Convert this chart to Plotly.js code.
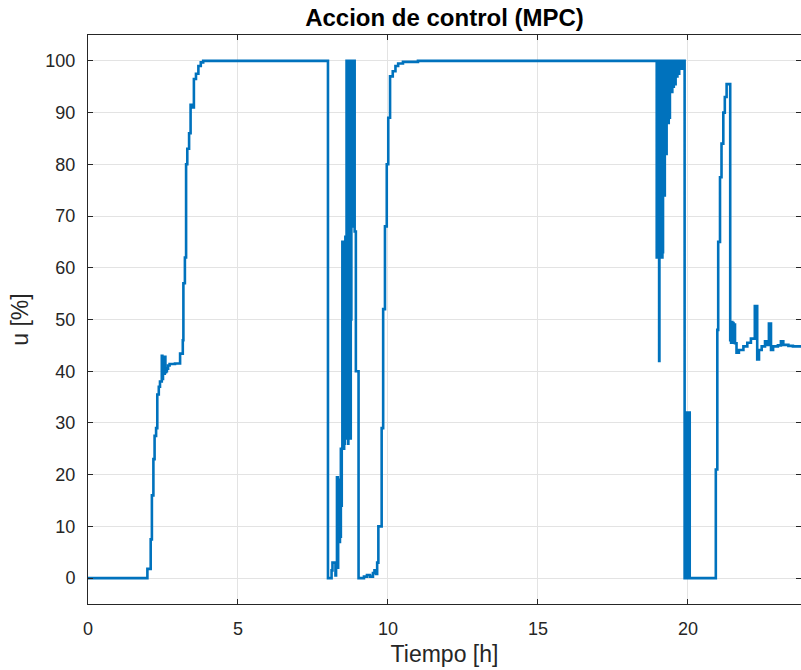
<!DOCTYPE html>
<html>
<head>
<meta charset="utf-8">
<script src="https://cdn.plot.ly/plotly-3.0.1.min.js"></script>
<style>html,body{margin:0;padding:0;background:#fff;}#chart{width:801px;height:670px;}</style>
</head>
<body>
<div id="chart"></div>
<script>
// Time [h] and control action u [%] (zero-order hold samples)
const tRise = [0, 1.98, 2.09, 2.13, 2.18, 2.22, 2.27, 2.31, 2.36, 2.40, 2.46, 2.48, 2.50, 2.53, 2.56, 2.58, 2.60, 2.63, 2.67, 2.72, 2.80, 2.90, 3.00, 3.07, 3.16, 3.18, 3.23, 3.27, 3.31, 3.37, 3.42, 3.47, 3.53, 3.60, 3.68, 3.76, 3.84];
const uRise = [0, 1.8, 7.5, 16, 23, 27.5, 29, 35.5, 37, 38, 43, 38.5, 42, 39.5, 42.8, 39.8, 40, 40.5, 41.1, 41.4, 41.4, 41.5, 41.5, 43.4, 46, 57, 62, 80, 83, 86, 91.5, 91, 96.5, 97.5, 99, 99.7, 100];

const tFirstDrop = [8.00, 8.12, 8.15, 8.22, 8.25, 8.27, 8.30, 8.31, 8.32, 8.33, 8.34, 8.35, 8.37, 8.38, 8.40, 8.41, 8.43, 8.44, 8.46,
  8.48, 8.49, 8.50, 8.51, 8.52, 8.53, 8.54, 8.55, 8.56, 8.57, 8.58, 8.59, 8.60, 8.61, 8.62, 8.63, 8.64, 8.65, 8.66, 8.67, 8.68, 8.69, 8.70,
  8.71, 8.72, 8.73, 8.74, 8.75, 8.76, 8.77, 8.78, 8.79, 8.80, 8.81, 8.82, 8.83, 8.84, 8.85, 8.86, 8.87, 8.88, 8.89, 8.93, 9.02,
  9.20, 9.30, 9.40, 9.50, 9.55, 9.60, 9.64, 9.68, 9.79, 9.84, 9.90, 9.96, 10.01, 10.07, 10.16, 10.25, 10.34, 10.50, 11.00];
const uFirstDrop = [0, 1.5, 3, 3, 0.5, 3, 19.5, 3, 19.5, 2, 19, 8, 14.5, 7, 14.5, 8, 25, 14, 25,
  65, 27, 65, 27, 65, 25, 64, 26, 65, 28, 66, 27, 65, 30, 100, 28, 100, 30, 99, 26, 100, 48, 100,
  30, 99, 50, 100, 27, 100, 50, 100, 68, 100, 68, 100, 70, 100, 68, 100, 69, 100, 67, 40, 0,
  0.3, 0.6, 0.3, 1, 1.5, 0.8, 3, 10, 29, 52, 68, 80, 89, 97, 98, 99, 99.5, 99.8, 100];

const tSecondDrop = [18.95, 18.96, 18.97, 18.98, 18.99, 19.00, 19.01, 19.02, 19.03, 19.04, 19.05, 19.06, 19.07, 19.08, 19.09, 19.10,
  19.11, 19.12, 19.13, 19.14, 19.15, 19.16, 19.17, 19.18, 19.19, 19.20, 19.21, 19.22, 19.23, 19.24, 19.25, 19.26, 19.27, 19.28, 19.29,
  19.30, 19.32, 19.34, 19.36, 19.38, 19.40, 19.42, 19.44, 19.46, 19.48, 19.50, 19.53, 19.56, 19.59, 19.62, 19.65, 19.68, 19.71, 19.74,
  19.77, 19.80, 19.83, 19.89, 19.90, 19.92, 19.93, 19.95, 19.96, 19.98, 19.99, 20.01, 20.02, 20.04, 20.05, 20.06,
  20.93, 20.98, 21.01, 21.07, 21.12, 21.18, 21.23, 21.29, 21.41];
const uSecondDrop = [100, 62, 100, 64, 100, 62, 100, 63, 100, 42, 100, 62, 100, 63, 100, 62,
  100, 64, 100, 62, 100, 63, 100, 74, 100, 75, 100, 74, 100, 82, 100, 83, 100, 82, 100,
  88, 100, 88, 100, 89, 100, 94, 100, 94, 100, 95, 100, 95.5, 100, 97, 100, 97.5, 100, 98.5,
  100, 98.5, 100, 0, 32, 0, 32, 0, 32, 0, 32, 0, 32, 0, 32, 0,
  21, 48, 65, 77.5, 84, 90, 93, 95.5, 46];

const tSettle = [21.42, 21.44, 21.46, 21.48, 21.50, 21.52, 21.55, 21.57, 21.62, 21.70, 21.85, 21.98, 22.10, 22.23, 22.31, 22.37, 22.46,
  22.57, 22.62, 22.70, 22.77, 22.84, 23.00, 23.10, 23.18, 23.35, 23.50, 23.77];
const uSettle = [49.5, 45.5, 49.5, 45.5, 49.3, 45.8, 49, 45.4, 43.6, 44.1, 44.8, 45.5, 46.3, 52.6, 42.3, 44.1, 44.8,
  45.8, 45.1, 49.2, 44.1, 44.8, 45.0, 45.8, 45.1, 44.9, 44.8, 44.6];

const tHours = [].concat(tRise, tFirstDrop, tSecondDrop, tSettle);
const uPct = [].concat(uRise, uFirstDrop, uSecondDrop, uSettle);

const xTicks = [0, 5, 10, 15, 20];
const yTicks = [0, 10, 20, 30, 40, 50, 60, 70, 80, 90, 100];

const FONT = 'Liberation Sans, Arial, Helvetica, sans-serif';
const INK = '#262626';

const trace = {
  x: tHours, y: uPct, type: 'scatter', mode: 'lines',
  line: {color: '#0072BD', width: 2.6, shape: 'hv'},
  hoverinfo: 'skip'
};

const axisCommon = {
  showline: true, linecolor: INK, linewidth: 1, mirror: 'ticks',
  ticks: 'inside', ticklen: 5, tickcolor: INK, tickwidth: 1,
  showgrid: true, gridcolor: '#e3e3e3', gridwidth: 1,
  zeroline: false, tickfont: {family: FONT, size: 18, color: INK},
  fixedrange: true
};

const layout = {
  width: 801, height: 670,
  margin: {l: 88, r: 0, t: 35, b: 66, pad: 0},
  paper_bgcolor: '#ffffff', plot_bgcolor: '#ffffff',
  showlegend: false,
  title: {text: 'Accion de control (MPC)', x: 0.5, xref: 'paper', xanchor: 'center',
          y: 1 - 18 / 670, yref: 'container', yanchor: 'middle',
          font: {family: FONT, size: 24, color: '#000000', weight: 'bold'}},
  xaxis: Object.assign({}, axisCommon, {
    range: [0, 23.77], tickvals: xTicks, ticktext: xTicks.map(String),
    ticklabelstandoff: 8,
    title: {text: 'Tiempo [h]', standoff: 8, font: {family: FONT, size: 23, color: INK}}
  }),
  yaxis: Object.assign({}, axisCommon, {
    range: [-5, 105], tickvals: yTicks, ticktext: yTicks.map(String),
    ticklabelstandoff: 8,
    title: {text: 'u [%]', standoff: 10, font: {family: FONT, size: 23, color: INK}}
  })
};

Plotly.newPlot('chart', [trace], layout, {displayModeBar: false, staticPlot: true});
</script>
</body>
</html>
